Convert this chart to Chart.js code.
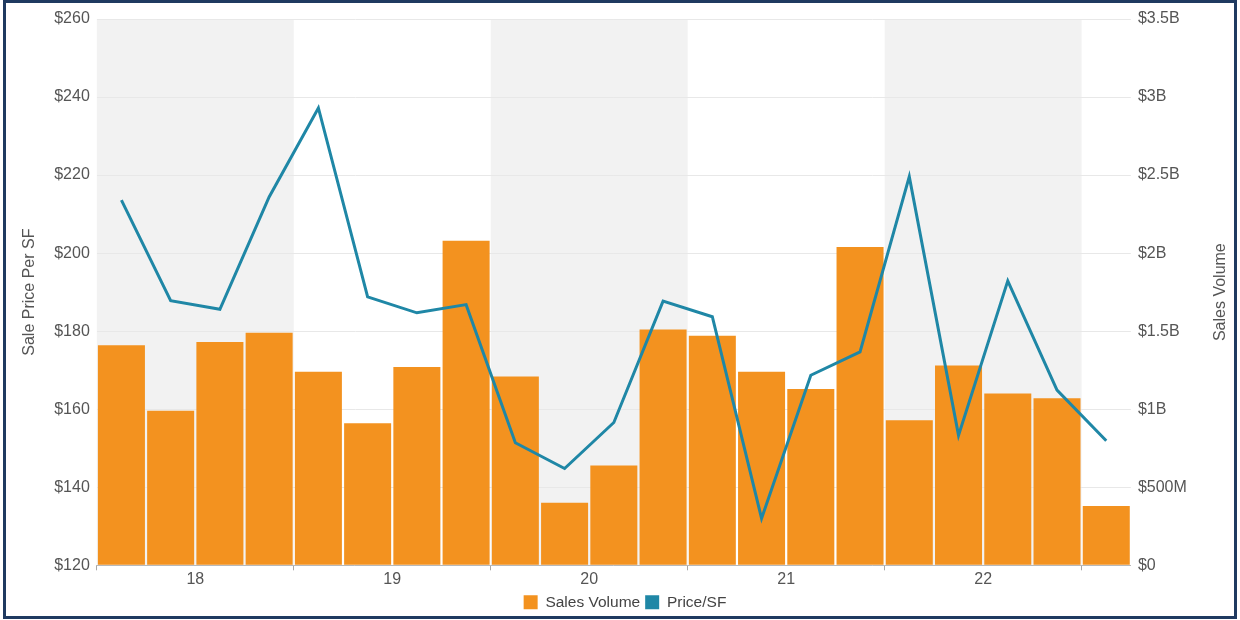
<!DOCTYPE html>
<html>
<head>
<meta charset="utf-8">
<script src="https://cdn.jsdelivr.net/npm/chart.js@4.4.1/dist/chart.umd.min.js"></script>
<style>
  html, body { margin: 0; padding: 0; background: #fff; }
  #wrap { position: relative; width: 1240px; height: 620px; overflow: hidden; }
  #frame { position: absolute; left: 3px; top: 0px; width: 1228px; height: 613px; border: 3px solid #1f3a60; pointer-events: none; }
  canvas { position: absolute; left: 0; top: 0; }
</style>
</head>
<body>
<div id="wrap">
  <canvas id="c" width="1240" height="620"></canvas>
  <div id="frame"></div>
</div>
<script>
// ---- data ----
const quarters = ['18Q1','18Q2','18Q3','18Q4','19Q1','19Q2','19Q3','19Q4','20Q1','20Q2','20Q3','20Q4','21Q1','21Q2','21Q3','21Q4','22Q1','22Q2','22Q3','22Q4','23Q1'];
const salesVolume = [1.41e9, 0.99e9, 1.43e9, 1.49e9, 1.24e9, 0.91e9, 1.27e9, 2.08e9, 1.21e9, 0.40e9, 0.64e9, 1.51e9, 1.47e9, 1.24e9, 1.13e9, 2.04e9, 0.93e9, 1.28e9, 1.10e9, 1.07e9, 0.38e9];
const priceSF = [213.6, 187.8, 185.6, 214.4, 237.2, 188.8, 184.7, 186.8, 151.4, 144.8, 156.6, 187.7, 183.7, 132.0, 168.7, 174.7, 219.6, 153.3, 192.9, 164.9, 151.9];
const yearLabels = ['18','19','20','21','22'];
const yearCenters = [1.5, 5.5, 9.5, 13.5, 17.5];
const yearBoundaries = [-0.5, 3.5, 7.5, 11.5, 15.5, 19.5];
const shadedYears = [[-0.5, 3.5], [7.5, 11.5], [15.5, 19.5]];
const priceTicks = [120, 140, 160, 180, 200, 220, 240, 260];
const volumeTicks = [0, 5e8, 1e9, 1.5e9, 2e9, 2.5e9, 3e9, 3.5e9];

const FONT = "'Liberation Sans', Arial, Helvetica, sans-serif";
const TXT = '#555555';
const ORANGE = '#F3921F';
const TEAL = '#1F87A6';
const TICK_SIZE = 16;
const TITLE_SIZE = 16;

function fmtVol(v) {
  if (v === 0) return '$0';
  if (v >= 1e9) return '$' + (+(v / 1e9).toFixed(1)) + 'B';
  return '$' + (+(v / 1e6).toFixed(0)) + 'M';
}

const yearTickValues = yearBoundaries.concat(yearCenters).sort((a, b) => a - b);

const bandsPlugin = {
  id: 'bands',
  beforeDraw(chart) {
    const { ctx, chartArea } = chart;
    const xs = chart.scales.xYear;
    ctx.save();
    ctx.fillStyle = '#F2F2F2';
    shadedYears.forEach(([a, b]) => {
      const x1 = xs.getPixelForValue(a);
      const x2 = xs.getPixelForValue(b);
      ctx.fillRect(x1, chartArea.top, x2 - x1, chartArea.bottom - chartArea.top);
    });
    ctx.restore();
  },
  afterDraw(chart) {
    // right axis title reading bottom-to-top
    const { ctx } = chart;
    const ys = chart.scales.yVol;
    ctx.save();
    ctx.font = TITLE_SIZE + 'px ' + FONT;
    ctx.fillStyle = TXT;
    ctx.textAlign = 'center';
    ctx.textBaseline = 'middle';
    ctx.translate(ys.right - TITLE_SIZE * 0.6, (ys.top + ys.bottom) / 2);
    ctx.rotate(-Math.PI / 2);
    ctx.fillText('Sales Volume', 0, 0);
    ctx.restore();
  }
};

new Chart(document.getElementById('c'), {
  data: {
    labels: quarters,
    datasets: [
      {
        type: 'bar',
        label: 'Sales Volume',
        data: salesVolume,
        backgroundColor: ORANGE,
        borderWidth: 0,
        barPercentage: 1,
        categoryPercentage: 0.955,
        yAxisID: 'yVol',
        xAxisID: 'x',
        order: 2
      },
      {
        type: 'line',
        label: 'Price/SF',
        data: priceSF,
        borderColor: TEAL,
        backgroundColor: TEAL,
        borderWidth: 3,
        pointRadius: 0,
        tension: 0,
        yAxisID: 'yPrice',
        xAxisID: 'x',
        order: 1
      }
    ]
  },
  options: {
    responsive: false,
    animation: false,
    layout: { padding: { left: 20, right: 10, top: 19, bottom: 0 } },
    plugins: {
      legend: {
        position: 'bottom',
        labels: {
          font: { family: FONT, size: 15.5 },
          color: '#444444',
          boxWidth: 14,
          boxHeight: 14,
          padding: 5,
          generateLabels(chart) {
            return chart.data.datasets.map((d, i) => ({
              text: d.label,
              fillStyle: d.type === 'bar' ? d.backgroundColor : d.borderColor,
              strokeStyle: 'rgba(0,0,0,0)',
              lineWidth: 0,
              fontColor: '#444444',
              datasetIndex: i,
              hidden: false
            }));
          }
        }
      },
      tooltip: { enabled: false }
    },
    scales: {
      x: {
        type: 'category',
        display: false,
        offset: true
      },
      xYear: {
        type: 'linear',
        position: 'bottom',
        min: -0.5,
        max: 20.5,
        afterBuildTicks(axis) { axis.ticks = yearTickValues.map(v => ({ value: v })); },
        ticks: {
          autoSkip: false,
          maxRotation: 0,
          padding: 0,
          color: TXT,
          font: { family: FONT, size: TICK_SIZE },
          callback(v) {
            const i = yearCenters.indexOf(v);
            return i >= 0 ? yearLabels[i] : '';
          }
        },
        grid: {
          drawOnChartArea: false,
          drawTicks: true,
          tickLength: 5,
          color(ctx) {
            return ctx.tick && yearBoundaries.indexOf(ctx.tick.value) >= 0 ? '#A8A8A8' : 'rgba(0,0,0,0)';
          }
        },
        border: { display: true, color: '#B8B8B8', width: 1 }
      },
      yPrice: {
        type: 'linear',
        position: 'left',
        min: 120,
        max: 260,
        afterBuildTicks(axis) { axis.ticks = priceTicks.map(v => ({ value: v })); },
        ticks: {
          color: TXT,
          padding: 7,
          font: { family: FONT, size: TICK_SIZE },
          callback: v => '$' + v
        },
        grid: { color: '#E8E8E8', drawTicks: false, lineWidth: 1 },
        border: { display: false },
        title: {
          display: true,
          text: 'Sale Price Per SF',
          color: TXT,
          font: { family: FONT, size: TITLE_SIZE },
          padding: { top: 0, bottom: 8 }
        }
      },
      yVol: {
        type: 'linear',
        position: 'right',
        min: 0,
        max: 3.5e9,
        afterBuildTicks(axis) { axis.ticks = volumeTicks.map(v => ({ value: v })); },
        ticks: {
          color: TXT,
          padding: 7,
          font: { family: FONT, size: TICK_SIZE },
          callback: v => fmtVol(v)
        },
        grid: { drawOnChartArea: false, drawTicks: false },
        border: { display: false },
        title: {
          display: true,
          text: 'Sales Volume',
          color: 'rgba(0,0,0,0)',
          font: { family: FONT, size: TITLE_SIZE },
          padding: { top: 17, bottom: 0 }
        }
      }
    }
  },
  plugins: [bandsPlugin]
});
</script>
</body>
</html>
